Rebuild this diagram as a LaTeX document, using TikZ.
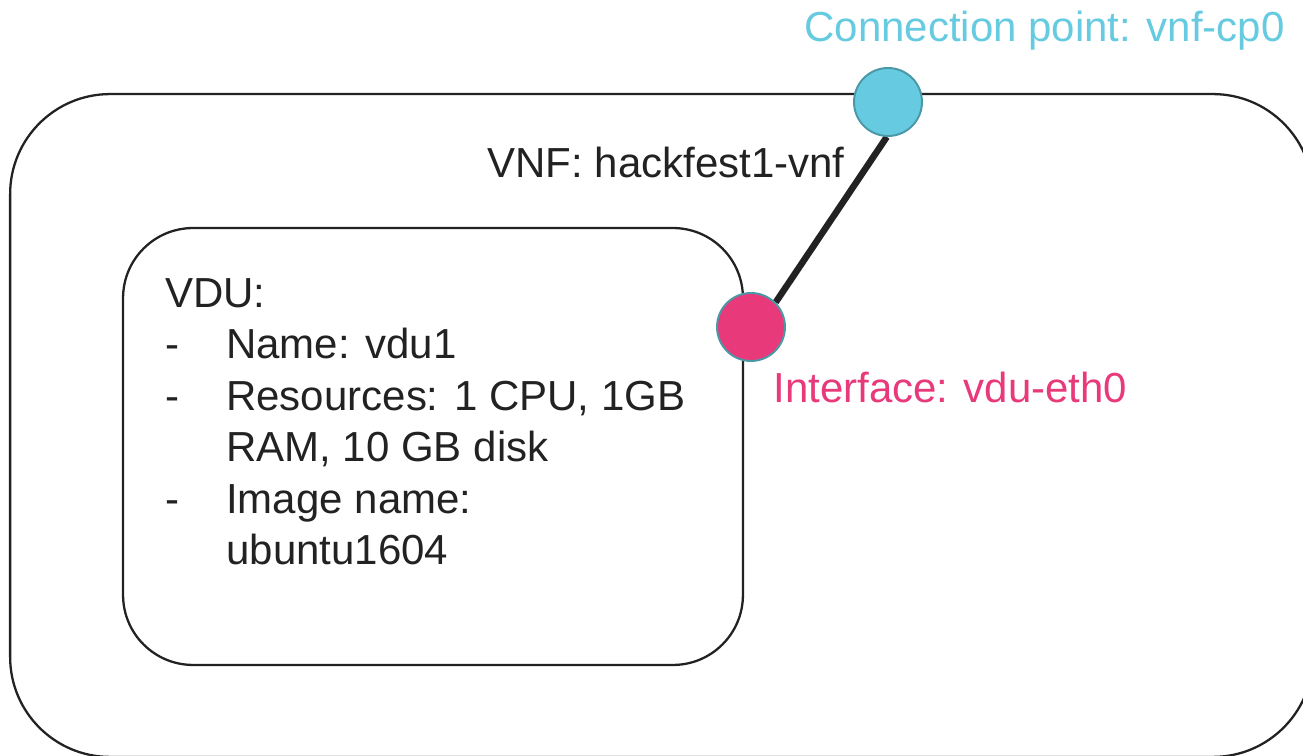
\documentclass[tikz,border=0pt]{standalone}
\usepackage{fontspec}
\setmainfont{Liberation Sans}
\usetikzlibrary{backgrounds}

\definecolor{cpblue}{HTML}{66CBE0}
\definecolor{ifpink}{HTML}{E8397A}
\definecolor{rimteal}{HTML}{4A98A6}
\definecolor{inkline}{HTML}{222222}

\begin{document}
\begin{tikzpicture}[x=0.02cm, y=-0.02cm,
  bigtext/.style={font=\fontsize{23.9}{29.3}\selectfont, inner sep=0pt, text=inkline},
  box/.style={draw=inkline, line width=1.3pt},
  port/.style={circle, draw=rimteal, line width=1.1pt, minimum size=1.36cm, inner sep=0pt}]
  \useasboundingbox (0,0) rectangle (1303,756);
  \clip (0,0) rectangle (1303,756);

  % VNF and VDU boxes
  \node[box, rounded corners=2cm, minimum width=26.06cm, minimum height=13.26cm] (vnf) at (661.5,425.5) {};
  \node[box, rounded corners=1.4cm, minimum width=12.4cm, minimum height=8.74cm] (vdu) at (433,446.5) {};

  % ports
  \node[port, fill=cpblue] (cp) at (888,102) {};
  \node[port, fill=ifpink] (iface) at (751,327) {};
  \begin{scope}[on background layer]
    \draw[line width=3.7pt, inkline] (cp.-92) -- (iface.45);
  \end{scope}

  % labels
  \node[bigtext, text=cpblue, anchor=base east] (cplabel) at (1285,42) {Connection point: vnf-cp0};
  \node[bigtext, anchor=base east] (vnflabel) at (845,178) {VNF: hackfest1-vnf};
  \node[bigtext, text=ifpink, anchor=base west] (iflabel) at (773,403) {Interface: vdu-eth0};
  \node[bigtext, align=left, anchor=north west] (vdulabel) at (165,278) {VDU:\\
    \makebox[1.22cm][l]{-}Name: vdu1\\
    \makebox[1.22cm][l]{-}Resources: 1 CPU, 1GB\\
    \makebox[1.22cm][l]{}RAM, 10 GB disk\\
    \makebox[1.22cm][l]{-}Image name:\\
    \makebox[1.22cm][l]{}ubuntu1604};
\end{tikzpicture}
\end{document}
